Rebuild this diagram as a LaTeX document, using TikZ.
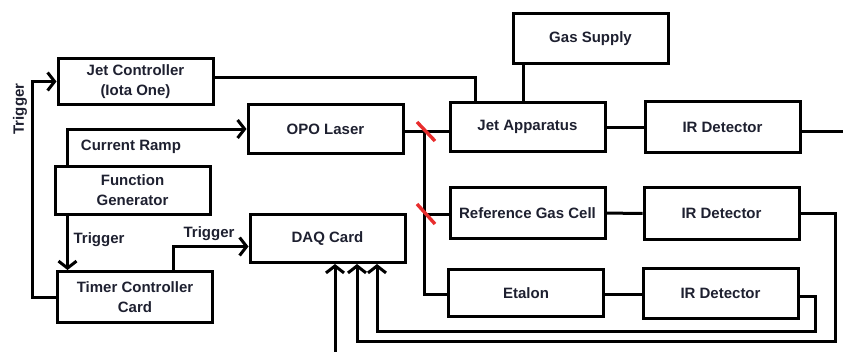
\documentclass[tikz,border=0pt]{standalone}
\usepackage{fontspec}
\setmainfont{Liberation Sans}
\usetikzlibrary{arrows.meta}
\definecolor{txt}{RGB}{30,32,48}
\definecolor{mirror}{RGB}{232,45,45}
\begin{document}
\begin{tikzpicture}[x=1pt,y=-1pt,
  lbl/.style={text=txt, font=\fontsize{15}{20}\selectfont\bfseries, inner sep=1pt},
  box/.style={draw, line width=3pt, minimum width=155pt, minimum height=49pt, align=center, inner sep=2pt, text=txt, font=\fontsize{15}{20}\selectfont\bfseries},
  ln/.style={line width=3pt},
  arr/.style={ln, -{Straight Barb[length=7pt,width=18pt]}},
  mir/.style={line width=3.4pt, draw=mirror}]
\useasboundingbox (0,0) rectangle (843,351);
\node[box, minimum height=46pt] (jc) at (135.5,81.5) {Jet Controller\\(Iota One)};
\node[box, minimum height=48pt] (fg) at (132.5,190.5) {Function\\Generator};
\node[box, minimum height=51pt] (tcc) at (135,297) {Timer Controller\\Card};
\node[box] (opo) at (325.5,129) {OPO Laser};
\node[box, minimum height=48pt] (daq) at (327.5,238.5) {DAQ Card};
\node[box, minimum height=50pt] (gs) at (590.5,38.5) {Gas Supply};
\node[box] (ja) at (527.5,127) {Jet Apparatus};
\node[box, minimum height=51pt] (ir1) at (722.5,127) {IR Detector};
\node[box, minimum height=51pt] (rgc) at (527.5,213) {Reference Gas Cell};
\node[box, minimum height=52pt] (ir2) at (721.5,213.5) {IR Detector};
\node[box, minimum height=47pt] (et) at (526,293) {Etalon};
\node[box, minimum height=50pt] (ir3) at (720.5,293.5) {IR Detector};
% coordinates
\coordinate (xl) at (32,0);
\coordinate (xr) at (67.5,0);
\coordinate (xt) at (173,0);
\coordinate (xj) at (475,0);
\coordinate (xg) at (523,0);
\coordinate (m1) at (424,131);
\coordinate (m2) at (424,214);
\coordinate (m3) at (424,294);
\coordinate (out1) at (850,131);
\coordinate (b1) at (335,360);
\coordinate (x2) at (357,0);
\coordinate (x3) at (377,0);
\coordinate (r2) at (835,341);
\coordinate (r3) at (815,331);
% left side connectors
\draw[arr] (tcc.west) -- (tcc.west -| xl) |- (jc.west);
\node[lbl, rotate=90] (tl) at (20,109) {Trigger};
\draw[arr] (fg.north -| xr) |- (opo.west);
\node[lbl] (cr) at (131,147) {Current Ramp};
\draw[arr] (fg.south -| xr) -- (tcc.north -| xr);
\node[lbl] (t2) at (99,240) {Trigger};
\draw[arr] (tcc.north -| xt) |- ([yshift=-8pt]daq.west);
\node[lbl] (t3) at (209,234) {Trigger};
% jet controller to jet apparatus
\draw[ln] ([yshift=4pt]jc.east) -| (ja.north -| xj);
\draw[ln] (gs.south -| xg) -- (ja.north -| xg);
\draw[ln] (ja) -- (ir1);
\draw[ln] ([yshift=-4pt]ir1.east) -- (out1);
% laser beam path
\draw[ln] (opo.east |- m1) -- (ja.west |- m1);
\draw[ln] (m1) -- (m3) -- (et.west |- m3);
\draw[ln] (m2) -- (rgc.west |- m2);
\draw[ln] (rgc) -- (ir2);
\draw[ln] (et.east |- m3) -- (ir3.west |- m3);
% mirrors
\draw[mir] (417,122) -- (435,141);
\draw[mir] (417,204) -- (435,224);
% signals to DAQ
\draw[arr] (b1) -- (daq.south -| b1);
\draw[arr] (ir2.east) -- (ir2.east -| r2) -- (r2) -- (r2 -| x2) -- (daq.south -| x2);
\draw[arr] ([yshift=-3pt]ir3.east) -- ([yshift=-3pt]ir3.east -| r3) -- (r3) -- (r3 -| x3) -- (daq.south -| x3);
\end{tikzpicture}
\end{document}
